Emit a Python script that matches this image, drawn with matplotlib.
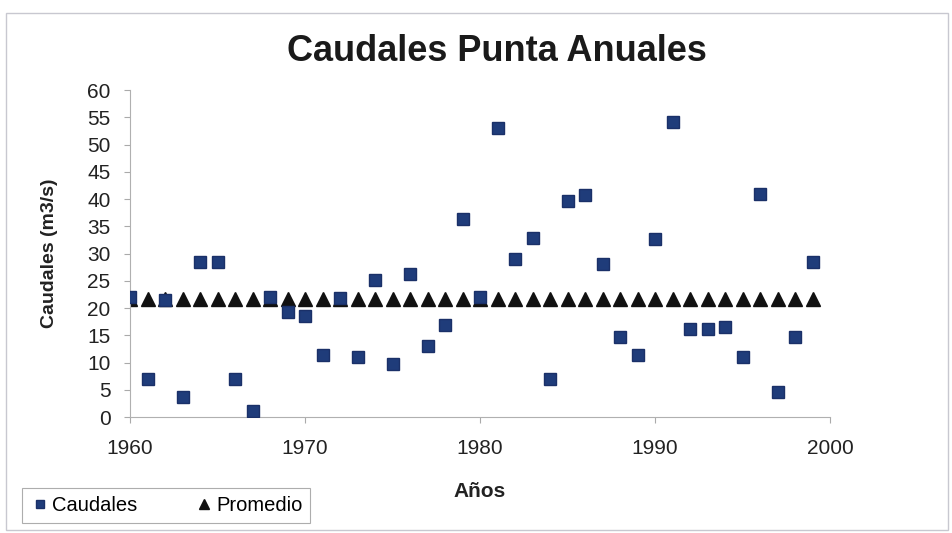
import matplotlib
matplotlib.use("Agg")
import matplotlib.pyplot as plt
from matplotlib.patches import Rectangle

years = [1960, 1961, 1962, 1963, 1964, 1965, 1966, 1967, 1968, 1969,
         1970, 1971, 1972, 1973, 1974, 1975, 1976, 1977, 1978, 1979,
         1980, 1981, 1982, 1983, 1984, 1985, 1986, 1987, 1988, 1989,
         1990, 1991, 1992, 1993, 1994, 1995, 1996, 1997, 1998, 1999]
caudales = [22.1, 6.9, 21.5, 3.6, 28.5, 28.5, 7.0, 1.1, 22.1, 19.2,
            18.5, 11.3, 21.8, 11.1, 25.1, 9.8, 26.2, 13.1, 16.8, 36.3,
            22.1, 53.1, 29.0, 32.8, 7.0, 39.6, 40.7, 28.0, 14.6, 11.3,
            32.6, 54.2, 16.1, 16.1, 16.5, 11.0, 40.9, 4.5, 14.6, 28.5]
promedio = [21.6, 21.6, 21.6, 21.6, 21.6, 21.6, 21.6, 21.6, 21.6, 21.6,
            21.6, 21.6, 21.6, 21.6, 21.6, 21.6, 21.6, 21.6, 21.6, 21.6,
            21.6, 21.6, 21.6, 21.6, 21.6, 21.6, 21.6, 21.6, 21.6, 21.6,
            21.6, 21.6, 21.6, 21.6, 21.6, 21.6, 21.6, 21.6, 21.6, 21.6]
x_ticks = [1960, 1970, 1980, 1990, 2000]
y_ticks = [0, 5, 10, 15, 20, 25, 30, 35, 40, 45, 50, 55, 60]

plt.rcParams['font.family'] = ['Liberation Sans', 'DejaVu Sans']

fig = plt.figure(figsize=(9.52, 5.33), dpi=100)
fig.patch.set_facecolor('white')

# outer chart border
fig.patches.append(Rectangle((0.006, 0.005), 0.99, 0.97, transform=fig.transFigure,
                             fill=False, edgecolor='#c8c8d0', linewidth=1.0))

ax = fig.add_axes([0.1366, 0.2176, 0.7353, 0.6135])
ax.plot(years, caudales, linestyle='none', marker='s', markersize=8.5,
        color='#1f3c7a', markeredgecolor='#1a3068', label='Caudales', zorder=3)
ax.plot(years, promedio, linestyle='none', marker='^', markersize=10,
        color='#111111', label='Promedio', zorder=2)

ax.set_xlim(1960, 2000)
ax.set_ylim(0, 60)
ax.set_xticks(x_ticks)
ax.set_yticks(y_ticks)
ax.tick_params(axis='both', labelsize=15, colors='#aaaaaa', labelcolor='#222222',
               length=4, direction='out')
ax.tick_params(axis='x', pad=12)
ax.tick_params(axis='y', pad=10)
for s in ['top', 'right']:
    ax.spines[s].set_visible(False)
for s in ['left', 'bottom']:
    ax.spines[s].set_color('#b0b0b0')
    ax.spines[s].set_linewidth(0.8)

ax.set_xlabel('Años', fontsize=15, fontweight='bold', labelpad=17, color='#222222')
ax.set_ylabel('Caudales (m3/s)', fontsize=14, fontweight='bold', labelpad=21, color='#222222')
fig.text(0.522, 0.903, 'Caudales Punta Anuales', fontsize=26, fontweight='bold',
         ha='center', va='center', color='#1a1a1a')

leg = fig.legend(loc='lower left', bbox_to_anchor=(0.023, 0.019), ncol=2,
                 fontsize=14.5, frameon=True, fancybox=False, handletextpad=0.1,
                 columnspacing=2.8, borderpad=0.4, borderaxespad=0.0,
                 markerscale=0.75, handlelength=1.0)
leg.get_frame().set_edgecolor('#999999')
leg.get_frame().set_linewidth(0.8)

fig.savefig('out.png', dpi=100)
